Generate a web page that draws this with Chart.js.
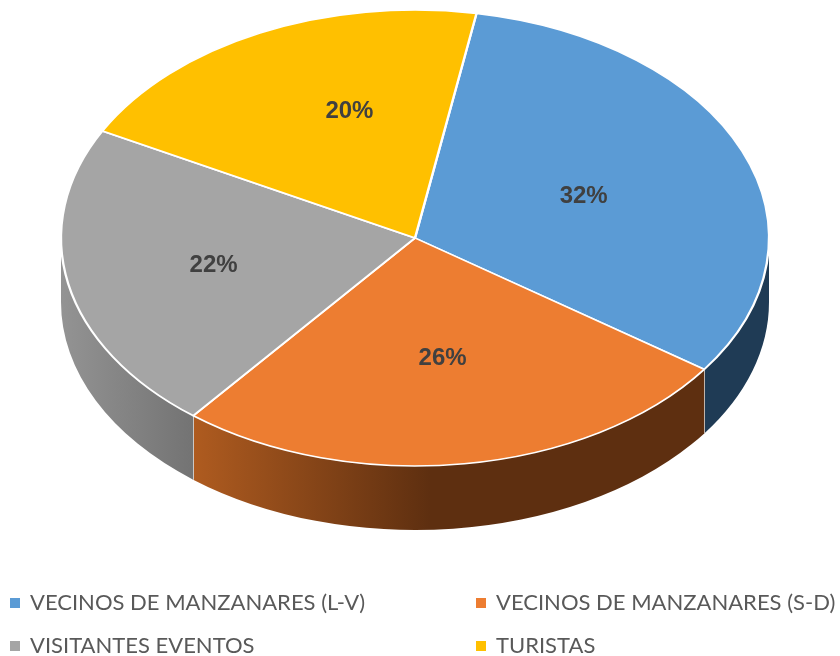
<!DOCTYPE html>
<html>
<head>
<meta charset="utf-8">
<script src="https://cdn.jsdelivr.net/npm/chart.js@4"></script>
<style>
  html, body { margin: 0; padding: 0; background: #fff; }
  canvas { display: block; }
</style>
</head>
<body>
<canvas id="pieChart" width="840" height="656"></canvas>
<script>
var categories = ['VECINOS DE MANZANARES (L-V)', 'VECINOS DE MANZANARES (S-D)', 'VISITANTES EVENTOS', 'TURISTAS'];
var shares = [32, 26, 22, 20];
var colors = ['#5b9bd5', '#ed7d31', '#a5a5a5', '#ffc000'];

// look of the fake 3d pie
var center = {x: 415, y: 238};
var radiusX = 354;
var radiusY = 228;
var depth = 64;
var wallColors = [['#1f3b55', '#1f3b55'], ['#b05c20', '#5e2f10'], ['#939393', '#747474'], ['#997300', '#7f6000']];
var wallGradientX = [[705, 769], [190, 430], [62, 190], [62, 190]];
var labelNudge = [[5, 2], [3, 7], [-28, 4], [12, -24]];
var legendSpots = [[10, 603], [476, 603], [10, 646], [476, 646]];

function squash(ctx, arc)
{
    ctx.translate(center.x, center.y);
    ctx.scale(radiusX / arc.outerRadius, radiusY / arc.outerRadius);
    ctx.translate(-arc.x, -arc.y);
}

function drawWall(ctx, arc, i)
{
    var start = arc.startAngle;
    var end = arc.endAngle;
    // only the part on the front of the pie shows, angles 0 to PI
    if (start < 0 && end > 0) start = 0;
    if (start > Math.PI * 2) { start -= Math.PI * 2; end -= Math.PI * 2; }
    if (start >= Math.PI || end <= 0) return;
    end = Math.min(end, Math.PI);

    var grad = ctx.createLinearGradient(wallGradientX[i][0], 0, wallGradientX[i][1], 0);
    grad.addColorStop(0, wallColors[i][0]);
    grad.addColorStop(1, wallColors[i][1]);

    ctx.beginPath();
    ctx.ellipse(center.x, center.y, radiusX, radiusY, 0, start, end);
    ctx.ellipse(center.x, center.y + depth, radiusX, radiusY, 0, end, start, true);
    ctx.closePath();
    ctx.fillStyle = grad;
    ctx.fill();
    ctx.strokeStyle = '#e4e4e4';
    ctx.lineWidth = 1.5;

    // seam at the slice edge
    if (end < Math.PI) {
        var ex = center.x + radiusX * Math.cos(end);
        var ey = center.y + radiusY * Math.sin(end);
        ctx.beginPath();
        ctx.moveTo(ex, ey);
        ctx.lineTo(ex, ey + depth);
        ctx.stroke();
    }
}

var fakePie = {
    id: 'fakePie',
    beforeDatasetsDraw: function(chart) {
        var ctx = chart.ctx;
        var arcs = chart.getDatasetMeta(0).data;
        arcs.forEach(function(arc, i) {
            drawWall(ctx, arc, i);
        });
        ctx.save();
        squash(ctx, arcs[0]);
    },
    afterDatasetsDraw: function(chart) {
        var ctx = chart.ctx;
        var arcs = chart.getDatasetMeta(0).data;
        ctx.restore();

        // percent labels
        ctx.font = 'bold 24px "Liberation Sans"';
        ctx.fillStyle = '#404040';
        ctx.textAlign = 'center';
        ctx.textBaseline = 'middle';
        arcs.forEach(function(arc, i) {
            var p = arc.getCenterPoint();
            var x = center.x + (p.x - arc.x) * radiusX / arc.outerRadius + labelNudge[i][0];
            var y = center.y + (p.y - arc.y) * radiusY / arc.outerRadius + labelNudge[i][1];
            ctx.fillText(shares[i] + '%', x, y);
        });

        // two column legend
        ctx.font = '22px Lato';
        ctx.textAlign = 'left';
        categories.forEach(function(name, i) {
            var spot = legendSpots[i];
            ctx.fillStyle = colors[i];
            ctx.fillRect(spot[0], spot[1] - 5, 10, 10);
            ctx.fillStyle = '#595959';
            ctx.fillText(name, spot[0] + 20, spot[1]);
        });
    }
};

var pie = new Chart(document.getElementById('pieChart').getContext('2d'), {
    type: 'pie',
    data: {
        labels: categories,
        datasets: [{
            data: shares,
            backgroundColor: colors,
            borderColor: '#ffffff',
            borderWidth: 2,
            clip: false
        }]
    },
    options: {
        responsive: false,
        animation: false,
        rotation: 10,
        layout: {padding: {top: 28, bottom: 28, left: 120, right: 120}},
        plugins: {legend: {display: false}, tooltip: {enabled: false}}
    },
    plugins: [fakePie]
});
</script>
</body>
</html>
